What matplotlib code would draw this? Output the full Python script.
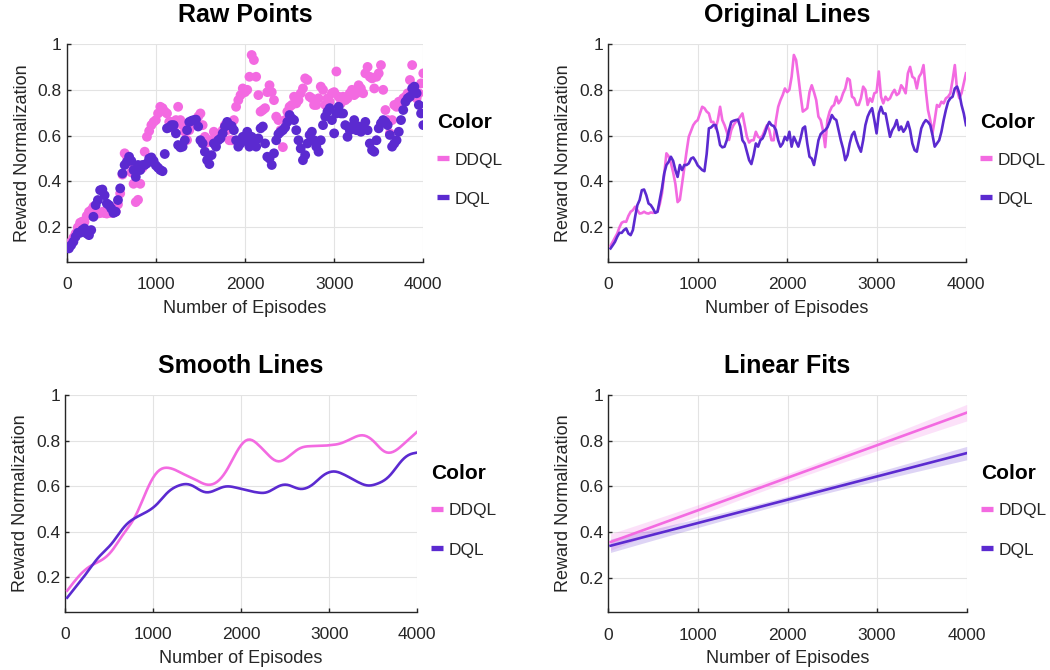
import numpy as np
import matplotlib
matplotlib.use('Agg')
import matplotlib.pyplot as plt
from matplotlib.lines import Line2D

# ---------------- data ----------------
episodes = np.arange(25, 4001, 25)

ddql = np.array([
    0.120, 0.137, 0.155, 0.173, 0.200, 0.220, 0.225, 0.224, 0.250, 0.268,
    0.275, 0.290, 0.275, 0.260, 0.262, 0.268, 0.262, 0.260, 0.265, 0.263,
    0.265, 0.268, 0.300, 0.348, 0.430, 0.523, 0.510, 0.480, 0.440, 0.390,
    0.310, 0.320, 0.390, 0.460, 0.530, 0.595, 0.620, 0.646, 0.660, 0.668,
    0.697, 0.726, 0.720, 0.705, 0.697, 0.660, 0.660, 0.632, 0.668, 0.726,
    0.668, 0.646, 0.617, 0.581, 0.624, 0.646, 0.660, 0.668, 0.683, 0.697,
    0.646, 0.595, 0.570, 0.580, 0.580, 0.617, 0.595, 0.590, 0.600, 0.624,
    0.646, 0.624, 0.580, 0.580, 0.668, 0.726, 0.755, 0.777, 0.806, 0.790,
    0.800, 0.857, 0.952, 0.930, 0.857, 0.777, 0.705, 0.712, 0.720, 0.790,
    0.820, 0.790, 0.755, 0.683, 0.668, 0.624, 0.550, 0.668, 0.705, 0.726,
    0.734, 0.770, 0.741, 0.755, 0.785, 0.806, 0.850, 0.843, 0.770, 0.763,
    0.734, 0.734, 0.763, 0.814, 0.800, 0.734, 0.763, 0.748, 0.785, 0.790,
    0.880, 0.770, 0.741, 0.770, 0.755, 0.763, 0.785, 0.800, 0.777, 0.785,
    0.820, 0.806, 0.785, 0.872, 0.900, 0.857, 0.850, 0.806, 0.857, 0.872,
    0.908, 0.800, 0.712, 0.668, 0.610, 0.668, 0.734, 0.726, 0.748, 0.741,
    0.763, 0.770, 0.785, 0.843, 0.908, 0.800, 0.763, 0.785, 0.828, 0.872,
])

dql = np.array([
    0.108, 0.122, 0.137, 0.159, 0.176, 0.176, 0.188, 0.195, 0.173, 0.166,
    0.188, 0.246, 0.297, 0.319, 0.362, 0.365, 0.340, 0.304, 0.297, 0.282,
    0.263, 0.268, 0.319, 0.370, 0.435, 0.472, 0.486, 0.508, 0.490, 0.450,
    0.420, 0.472, 0.450, 0.472, 0.472, 0.479, 0.500, 0.505, 0.490, 0.470,
    0.460, 0.450, 0.445, 0.520, 0.632, 0.636, 0.646, 0.646, 0.610, 0.559,
    0.549, 0.552, 0.580, 0.624, 0.660, 0.665, 0.668, 0.670, 0.640, 0.580,
    0.566, 0.530, 0.493, 0.476, 0.515, 0.566, 0.552, 0.580, 0.588, 0.610,
    0.640, 0.660, 0.646, 0.642, 0.624, 0.580, 0.552, 0.566, 0.595, 0.580,
    0.617, 0.552, 0.595, 0.573, 0.552, 0.588, 0.632, 0.640, 0.566, 0.508,
    0.500, 0.472, 0.523, 0.580, 0.607, 0.617, 0.624, 0.636, 0.660, 0.690,
    0.675, 0.668, 0.624, 0.580, 0.544, 0.493, 0.515, 0.566, 0.603, 0.617,
    0.580, 0.552, 0.530, 0.580, 0.646, 0.683, 0.705, 0.720, 0.668, 0.610,
    0.697, 0.726, 0.697, 0.697, 0.646, 0.595, 0.624, 0.640, 0.668, 0.624,
    0.640, 0.617, 0.632, 0.660, 0.624, 0.566, 0.537, 0.530, 0.580, 0.632,
    0.654, 0.668, 0.660, 0.646, 0.603, 0.552, 0.566, 0.580, 0.617, 0.668,
    0.712, 0.748, 0.763, 0.770, 0.806, 0.814, 0.785, 0.734, 0.697, 0.646,
])

series_names = ['DDQL', 'DQL']
series_values = [ddql, dql]
series_colors = ['#F36AE1', '#5B2AD0']
panel_titles = ['Raw Points', 'Original Lines', 'Smooth Lines', 'Linear Fits']
x_label = 'Number of Episodes'
y_label = 'Reward Normalization'
legend_title = 'Color'
x_ticks = [0, 1000, 2000, 3000, 4000]
y_ticks = [0.2, 0.4, 0.6, 0.8, 1.0]
y_tick_labels = ['0.2', '0.4', '0.6', '0.8', '1']

# ---------------- helpers ----------------
def whittaker(y, lam):
    n = len(y)
    D = np.diff(np.eye(n), 2, axis=0)
    A = np.eye(n) + lam * D.T @ D
    return np.linalg.solve(A, y)


def linfit_ci(x, y, xg, t=1.97):
    n = len(x)
    p = np.polyfit(x, y, 1)
    res = y - np.polyval(p, x)
    s = np.sqrt(np.sum(res ** 2) / (n - 2))
    sxx = np.sum((x - x.mean()) ** 2)
    se = s * np.sqrt(1.0 / n + (xg - x.mean()) ** 2 / sxx)
    yg = np.polyval(p, xg)
    return yg, yg - t * se, yg + t * se


# ---------------- figure ----------------
plt.rcParams['font.family'] = ['Liberation Sans', 'DejaVu Sans']
W, H = 1050, 670
fig = plt.figure(figsize=(W / 100, H / 100), dpi=100)

boxes = [(66.7, 44, 423.3, 261.7), (608.3, 44, 966.0, 261.7),
         (65.0, 395, 417.3, 611.7), (608.3, 395, 966.7, 612.3)]

txt_col = '#262626'
axes = []
for k, (l, t, r, b) in enumerate(boxes):
    ax = fig.add_axes([l / W, 1 - b / H, (r - l) / W, (b - t) / H])
    axes.append(ax)
    ax.set_xlim(0, 4000)
    ax.set_ylim(0.05, 1.0)
    ax.set_xticks(x_ticks)
    ax.set_yticks(y_ticks)
    ax.set_yticklabels(y_tick_labels)
    ax.grid(True, color='#e3e3e3', lw=0.8, zorder=0)
    ax.set_axisbelow(True)
    for s in ['top', 'right']:
        ax.spines[s].set_visible(False)
    for s in ['left', 'bottom']:
        ax.spines[s].set_color('#262626')
        ax.spines[s].set_linewidth(1.0)
    ax.tick_params(axis='both', direction='in', length=3, width=1.0,
                   colors='#262626', labelsize=12.5, labelcolor=txt_col)
    ax.tick_params(axis='x', pad=11)
    ax.tick_params(axis='y', pad=3.5)
    ax.set_xlabel(x_label, fontsize=13, color=txt_col, labelpad=5.5)
    ax.set_ylabel(y_label, fontsize=13, color=txt_col, labelpad=5)
    ax.set_title(panel_titles[k], fontsize=18, fontweight='bold', pad=15.5)

    # legend
    lx = r + 14
    fig.text(lx / W, 1 - (t + 84.3) / H, legend_title, fontsize=15,
             fontweight='bold', va='baseline', ha='left', color='black')
    for i, (name, col) in enumerate(zip(series_names, series_colors)):
        my = t + [114.3, 153.3][i]
        fig.add_artist(Line2D([lx / W, (lx + 12) / W], [1 - my / H] * 2,
                              color=col, lw=3.8, solid_capstyle='butt'))
        fig.text((lx + 17.5) / W, 1 - (t + [120.5, 160.0][i]) / H, name,
                 fontsize=12.5, va='baseline', ha='left', color=txt_col)

# Raw points
for vals, col in zip(series_values, series_colors):
    axes[0].scatter(episodes, vals, s=50, color=col, edgecolors='none', zorder=3)

# Original lines
for vals, col in zip(series_values, series_colors):
    axes[1].plot(episodes, vals, color=col, lw=1.9, zorder=3)

# Smooth lines
for vals, col in zip(series_values, series_colors):
    axes[2].plot(episodes, whittaker(vals, 300.0), color=col, lw=1.9, zorder=3)

# Linear fits
xg = np.linspace(episodes[0], episodes[-1], 100)
for vals, col in zip(series_values, series_colors):
    yg, lo, hi = linfit_ci(episodes.astype(float), vals, xg)
    axes[3].fill_between(xg, lo, hi, color=col, alpha=0.2, lw=0, zorder=2)
    axes[3].plot(xg, yg, color=col, lw=1.9, zorder=3)

fig.savefig('out.png', dpi=100)
